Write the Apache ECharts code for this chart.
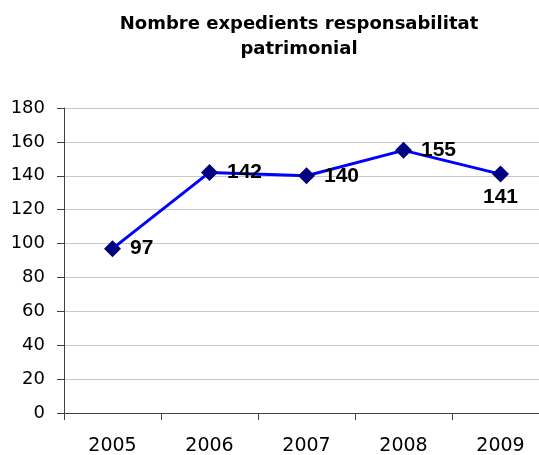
<!DOCTYPE html>
<html>
<head>
<meta charset="utf-8">
<script src="https://cdn.jsdelivr.net/npm/echarts@6/dist/echarts.min.js"></script>
<style>
  html, body { margin: 0; padding: 0; background: #fff; }
  #chart { width: 539px; height: 455px; }
</style>
</head>
<body>
<div id="chart"></div>
<script>
// Data
const years = ['2005', '2006', '2007', '2008', '2009'];
const expedients = [97, 142, 140, 155, 141];
const labelPlaces = ['right', 'right', 'right', 'right', 'bottom'];

const chart = echarts.init(document.getElementById('chart'));

const option = {
  animation: false,
  textStyle: { fontFamily: 'DejaVu Sans, sans-serif' },
  title: {
    text: 'Nombre expedients responsabilitat\npatrimonial',
    left: 294,
    top: 7,
    textAlign: 'center',
    textStyle: {
      fontSize: 18,
      fontWeight: 'bold',
      color: '#000',
      lineHeight: 25,
      fontFamily: 'DejaVu Sans, sans-serif'
    }
  },
  grid: { left: 64, width: 485, top: 108, bottom: 42, outerBoundsMode: 'none' },
  xAxis: {
    type: 'category',
    data: years,
    boundaryGap: true,
    axisLine: { lineStyle: { color: '#404040', width: 1 } },
    axisTick: { show: true, length: 7, lineStyle: { color: '#404040' } },
    axisLabel: { color: '#000', fontSize: 19, margin: 24 }
  },
  yAxis: {
    type: 'value',
    min: 0,
    max: 180,
    interval: 20,
    axisLine: { show: true, lineStyle: { color: '#404040', width: 1 } },
    axisTick: { show: true, length: 7, lineStyle: { color: '#404040' } },
    axisLabel: { color: '#000', fontSize: 18, margin: 19 },
    splitLine: { lineStyle: { color: '#c8c8c8', width: 1 } }
  },
  series: [
    {
      type: 'line',
      data: expedients.map((v, i) => ({
        value: v,
        label: {
          position: labelPlaces[i],
          distance: labelPlaces[i] === 'bottom' ? 4 : 9
        }
      })),
      symbol: 'diamond',
      symbolSize: 17,
      lineStyle: { color: '#0000ff', width: 3 },
      itemStyle: { color: '#000080' },
      label: {
        show: true,
        fontSize: 21,
        fontWeight: 'bold',
        color: '#000',
        fontFamily: 'Liberation Sans, Arial, sans-serif'
      }
    }
  ]
};

chart.setOption(option);

window.addEventListener('resize', () => {
  chart.resize();
});
</script>
</body>
</html>
